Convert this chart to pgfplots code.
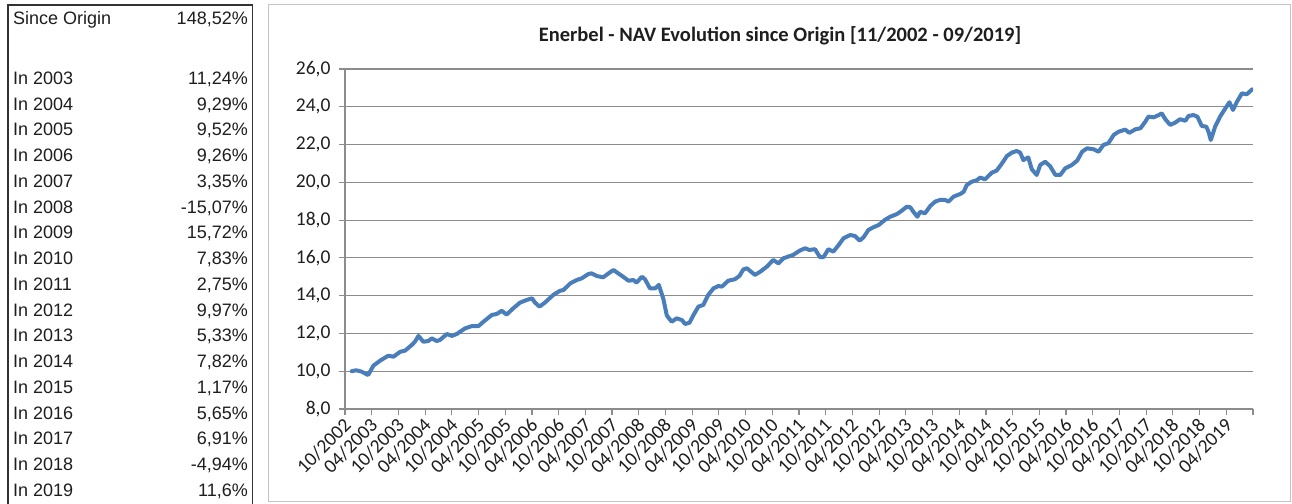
\documentclass[border=0pt]{standalone}
\usepackage{fontspec}
\setmainfont{Carlito}
\newfontfamily\arial{Liberation Sans}
\usepackage{pgfplots}
\pgfplotsset{compat=1.18}
\definecolor{navblue}{RGB}{74,126,187}
\definecolor{gridgray}{RGB}{140,140,140}
\definecolor{boxgray}{RGB}{195,195,195}
\definecolor{tabline}{RGB}{50,50,50}
\definecolor{txt}{RGB}{30,30,30}

\begin{document}
\begin{tikzpicture}[x=1pt,y=1pt]
\useasboundingbox (0,0) rectangle (1292,503);
\fill[white] (0,0) rectangle (1292,503);
% table box
\draw[tabline, line width=1.5pt] (8,-2) -- (8,498) -- (252.5,498) -- (252.5,-2);
\begin{scope}[every node/.style={font=\arial\fontsize{18}{21}\selectfont, inner sep=0pt, text=txt}]
\node[anchor=base west] at (13,{503-24.6}) {Since Origin};
\node[anchor=base east] at (248,{503-24.6}) {148,52\%};
\node[anchor=base west] at (13,{503-84.4}) {In 2003};  \node[anchor=base east] at (248,{503-84.4}) {11,24\%};
\node[anchor=base west] at (13,{503-110.15}) {In 2004}; \node[anchor=base east] at (248,{503-110.15}) {9,29\%};
\node[anchor=base west] at (13,{503-135.9}) {In 2005}; \node[anchor=base east] at (248,{503-135.9}) {9,52\%};
\node[anchor=base west] at (13,{503-161.65}) {In 2006}; \node[anchor=base east] at (248,{503-161.65}) {9,26\%};
\node[anchor=base west] at (13,{503-187.4}) {In 2007}; \node[anchor=base east] at (248,{503-187.4}) {3,35\%};
\node[anchor=base west] at (13,{503-213.15}) {In 2008}; \node[anchor=base east] at (248,{503-213.15}) {-15,07\%};
\node[anchor=base west] at (13,{503-238.9}) {In 2009}; \node[anchor=base east] at (248,{503-238.9}) {15,72\%};
\node[anchor=base west] at (13,{503-264.65}) {In 2010}; \node[anchor=base east] at (248,{503-264.65}) {7,83\%};
\node[anchor=base west] at (13,{503-290.4}) {In 2011}; \node[anchor=base east] at (248,{503-290.4}) {2,75\%};
\node[anchor=base west] at (13,{503-316.15}) {In 2012}; \node[anchor=base east] at (248,{503-316.15}) {9,97\%};
\node[anchor=base west] at (13,{503-341.9}) {In 2013}; \node[anchor=base east] at (248,{503-341.9}) {5,33\%};
\node[anchor=base west] at (13,{503-367.65}) {In 2014}; \node[anchor=base east] at (248,{503-367.65}) {7,82\%};
\node[anchor=base west] at (13,{503-393.4}) {In 2015}; \node[anchor=base east] at (248,{503-393.4}) {1,17\%};
\node[anchor=base west] at (13,{503-419.15}) {In 2016}; \node[anchor=base east] at (248,{503-419.15}) {5,65\%};
\node[anchor=base west] at (13,{503-444.9}) {In 2017}; \node[anchor=base east] at (248,{503-444.9}) {6,91\%};
\node[anchor=base west] at (13,{503-470.65}) {In 2018}; \node[anchor=base east] at (248,{503-470.65}) {-4,94\%};
\node[anchor=base west] at (13,{503-496.4}) {In 2019}; \node[anchor=base east] at (248,{503-496.4}) {11,6\%};
\end{scope}
% chart box
\draw[boxgray, line width=1pt] (268,1.5) rectangle (1290,498);
\node[font=\bfseries\fontsize{20.5}{24}\selectfont, text=txt] at (780,467) {Enerbel - NAV Evolution since Origin [11/2002 - 09/2019]};
\begin{axis}[
  at={(345pt,94pt)}, anchor=south west,
  width=908pt, height=340pt, scale only axis,
  xmin=0, xmax=204, ymin=8, ymax=26,
  axis lines*=left,
  axis line style={gridgray, line width=1.2pt},
  ytick={8,10,...,26},
  ymajorgrids, major grid style={gridgray, line width=1.2pt},
  xtick={0,6,...,204},
  xticklabels={10/2002,04/2003,10/2003,04/2004,10/2004,04/2005,10/2005,04/2006,10/2006,04/2007,10/2007,04/2008,10/2008,04/2009,10/2009,04/2010,10/2010,04/2011,10/2011,04/2012,10/2012,04/2013,10/2013,04/2014,10/2014,04/2015,10/2015,04/2016,10/2016,04/2017,10/2017,04/2018,10/2018,04/2019,{}},
  tick align=outside, major tick length=6pt,
  tick style={gridgray, line width=1.2pt},
  ticklabel style={font=\fontsize{19.5}{22}\selectfont, text=txt},
  yticklabel={\pgfmathprintnumber[fixed,fixed zerofill,precision=1,use comma,assume math mode=true]{\tick}},
  yticklabel style={xshift=-5pt},
  xticklabel style={xshift=5pt, yshift=-5pt, rotate=45, anchor=east},
]
\addplot[navblue, line width=4pt, line join=round, line cap=round] coordinates {
(1.5,10.00) (2.5,10.05) (3.7,9.98) (5.2,9.80) (6.4,10.30) (7.9,10.56) (9.7,10.82) (10.9,10.77)
(12.4,11.03) (13.5,11.09) (15.0,11.39) (15.7,11.56) (16.5,11.87) (17.6,11.56) (18.7,11.60) (19.5,11.74)
(20.6,11.60) (21.3,11.65) (22.9,11.97) (24.0,11.87) (25.1,11.97) (27.0,12.27) (28.5,12.39) (30.0,12.39)
(31.1,12.62) (33.0,12.98) (34.1,13.03) (35.2,13.20) (36.3,13.00) (37.8,13.33) (39.3,13.63) (40.8,13.77)
(42.0,13.86) (42.7,13.63) (43.7,13.42) (44.9,13.63) (46.8,14.04) (48.3,14.26) (49.1,14.30) (50.6,14.65)
(52.1,14.83) (53.2,14.92) (54.7,15.15) (55.4,15.18) (56.6,15.04) (58.0,14.97) (59.2,15.18) (60.3,15.36)
(61.4,15.18) (62.5,15.00) (63.7,14.79) (64.8,14.83) (65.5,14.69) (66.7,15.00) (67.4,14.87) (68.5,14.39)
(69.7,14.39) (70.5,14.57) (71.5,13.85) (72.3,12.95) (73.4,12.62) (74.5,12.80) (75.7,12.71) (76.4,12.50)
(77.4,12.57) (78.3,12.98) (79.4,13.42) (80.5,13.51) (81.6,14.04) (82.8,14.39) (83.9,14.51) (84.7,14.48)
(86.1,14.79) (87.6,14.87) (88.6,15.04) (89.5,15.39) (90.3,15.45) (91.2,15.27) (92.1,15.10) (93.3,15.27)
(94.8,15.54) (96.2,15.89) (97.4,15.71) (98.5,15.98) (99.6,16.07) (100.7,16.16) (102.2,16.39) (103.4,16.51)
(104.3,16.42) (105.6,16.46) (106.7,16.04) (107.5,16.04) (108.6,16.46) (109.7,16.33) (110.9,16.68) (112.0,17.04)
(113.5,17.21) (114.6,17.16) (115.6,16.91) (116.5,17.09) (117.6,17.48) (118.7,17.62) (119.9,17.74) (121.3,18.01)
(122.5,18.18) (124.0,18.32) (125.1,18.50) (126.2,18.71) (127.0,18.68) (127.7,18.44) (128.6,18.18) (129.2,18.44)
(130.3,18.36) (131.5,18.75) (132.6,18.98) (133.7,19.07) (134.8,19.07) (135.6,18.98) (136.7,19.24) (138.2,19.38)
(139.0,19.50) (139.7,19.86) (140.8,20.03) (142.0,20.12) (142.7,20.25) (143.8,20.16) (145.3,20.51) (146.4,20.62)
(147.6,21.00) (148.7,21.39) (149.8,21.57) (150.9,21.66) (151.7,21.57) (152.4,21.18) (153.5,21.32) (154.3,20.69)
(155.4,20.39) (156.2,20.92) (157.3,21.09) (158.4,20.86) (159.6,20.39) (160.7,20.39) (161.8,20.74) (163.3,20.92)
(164.5,21.15) (165.6,21.62) (166.7,21.80) (168.2,21.75) (169.3,21.62) (170.4,21.98) (171.5,22.07) (172.7,22.51)
(173.8,22.68) (175.3,22.79) (176.2,22.62) (177.6,22.81) (178.7,22.86) (179.8,23.21) (180.5,23.48) (181.7,23.44)
(182.8,23.56) (183.5,23.65) (184.3,23.34) (185.4,23.04) (186.5,23.16) (187.6,23.34) (188.8,23.26) (189.5,23.51)
(190.6,23.56) (191.5,23.48) (192.5,22.98) (193.5,22.95) (194.0,22.68) (194.5,22.24) (195.5,22.95) (196.6,23.48)
(197.8,23.92) (198.7,24.24) (199.5,23.83) (200.4,24.27) (201.5,24.71) (202.6,24.66) (203.8,24.92)
};
\end{axis}
\end{tikzpicture}
\end{document}
